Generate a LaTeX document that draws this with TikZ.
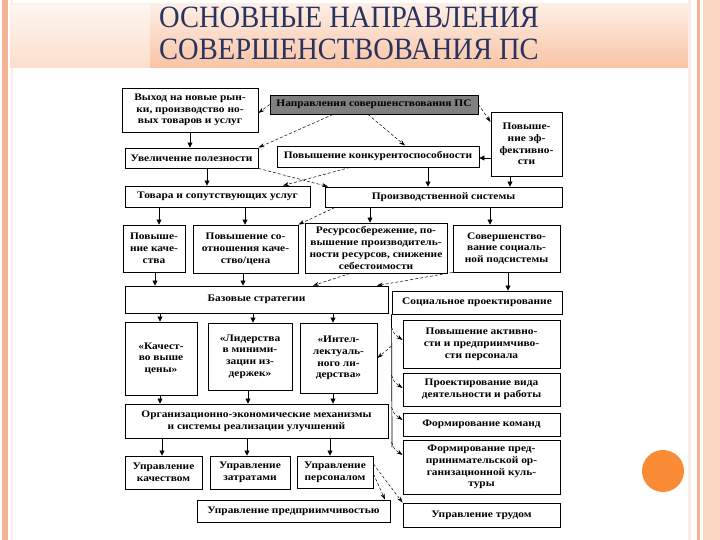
\documentclass[tikz,border=0pt]{standalone}
\usepackage{fontspec}
\setmainfont{Liberation Serif}
\newfontfamily\boxfont{Liberation Serif}[FakeStretch=1.14]
\newfontfamily\titlefont{Liberation Serif}[FakeStretch=0.92]
\usetikzlibrary{arrows.meta}
\definecolor{slidepeach}{HTML}{F9C4A5}
\definecolor{slidelight}{HTML}{FDEEE5}
\definecolor{slidestripe}{HTML}{F5B396}
\definecolor{titleblue}{HTML}{28345F}
\definecolor{sunorange}{HTML}{F98B35}
\tikzset{
  blk/.style={draw=black,line width=0.9pt,fill=white,align=center,inner sep=1pt,
              font=\boxfont\bfseries\fontsize{10}{11.8}\selectfont},
  dn/.style={-{Triangle[length=5pt,width=5pt]},line width=0.7pt},
  dsh/.style={-{Stealth[length=6pt,width=4pt]},densely dashed,line width=0.5pt}}
\newcommand\blok[7][]{%
  \node[blk,minimum width={(#5-#3)*1pt},minimum height={(#6-#4)*1pt},#1]
       (#2) at ({(#3+#5)/2},{(#4+#6)/2}) {#7};}

\begin{document}
\begin{tikzpicture}[x=1pt,y=-1pt]
  \useasboundingbox (0,0) rectangle (720,540);
  \fill[white] (0,0) rectangle (720,540);
  % slide frame
  \fill[slidestripe] (2,0) rectangle (8,540);
  \fill[slidelight] (11,0) rectangle (13,540);
  \shade[top color=slidelight,bottom color=slidepeach] (10,4) rectangle (688,68);
  \fill[white,opacity=.45] (10,4) rectangle (150,68);
  \fill[slidelight] (688,0) rectangle (691,540);
  \fill[slidestripe] (697,0) rectangle (700,540);
  \fill[slidepeach!70] (703,0) rectangle (720,540);
  \fill[sunorange] (663,471) circle (21);
  \node[anchor=west,text=titleblue,font=\titlefont\fontsize{31}{32}\selectfont,inner sep=0pt]
       (ttl1) at (159,17) {ОСНОВНЫЕ НАПРАВЛЕНИЯ};
  \node[anchor=west,text=titleblue,font=\titlefont\fontsize{31}{32}\selectfont,inner sep=0pt]
       (ttl2) at (159,49) {СОВЕРШЕНСТВОВАНИЯ ПС};

  \blok[fill=black!50]{hdr}{270}{95}{478}{114}{Направления совершенствования ПС}
  \blok{vyh}{122}{88}{258}{132}{Выход на новые рын-\\ки, производство но-\\вых товаров и услуг}
  \blok{pef}{491}{112}{562}{176}{Повыше-\\ние эф-\\фективно-\\сти}
  \blok{uvp}{125}{148}{258}{168}{Увеличение полезности}
  \blok{pks}{277}{146}{479}{167}{Повышение конкурентоспособности}
  \blok{tov}{125}{186}{310}{207}{Товара и сопутствующих услуг}
  \blok{pss}{325}{187}{562}{207}{Производственной системы}
  \blok{pkc}{123}{225}{185}{272}{Повыше-\\ние каче-\\ства}
  \blok{psk}{193}{225}{298}{273}{Повышение со-\\отношения каче-\\ство/цена}
  \blok{res}{305}{223}{447}{273}{Ресурсосбережение, по-\\вышение производитель-\\ности ресурсов, снижение\\себестоимости}
  \blok{sov}{453}{225}{560}{272}{Совершенство-\\вание социаль-\\ной подсистемы}
  \blok{bas}{125}{286}{388}{313}{Базовые стратегии}
  \blok{soc}{392}{291}{562}{314}{Социальное проектирование}
  \blok{kac}{125}{322}{197}{395}{«Качест-\\во выше\\цены»}
  \blok{lid}{208}{323}{292}{390}{«Лидерства\\в миними-\\зации из-\\держек»}
  \blok{int}{300}{323}{377}{393}{«Интел-\\лектуаль-\\ного ли-\\дерства»}
  \blok{pak}{403}{320}{560}{368}{Повышение активно-\\сти и предприимчиво-\\сти персонала}
  \blok{prd}{403}{373}{560}{406}{Проектирование вида\\деятельности и работы}
  \blok{fkm}{403}{413}{560}{436}{Формирование команд}
  \blok{org}{125}{404}{388}{438}{Организационно-экономические механизмы\\и системы реализации улучшений}
  \blok{fpk}{403}{440}{560}{494}{Формирование пред-\\принимательской ор-\\ганизационной куль-\\туры}
  \blok{uk}{125}{456}{202}{489}{Управление\\качеством}
  \blok{uz}{210}{456}{290}{489}{Управление\\затратами}
  \blok{upr}{297}{456}{373}{488}{Управление\\персоналом}
  \blok{upp}{197}{500}{390}{522}{Управление предприимчивостью}
  \blok{utr}{403}{503}{560}{527}{Управление трудом}

  \foreach \a/\b/\x in {vyh/uvp/190,uvp/tov/207,pks/pss/428,pef/pss/510,tov/pkc/159,tov/psk/245,
                        pss/res/370,pss/sov/490,pkc/bas/155,psk/bas/243,sov/soc/508,
                        bas/kac/160,bas/lid/253,bas/int/333,kac/org/160,lid/org/248,int/org/333,
                        org/uk/162,org/uz/247,org/upr/330}
     \draw[dn] (\x,0 |- \a.south) -- (\x,0 |- \b.north);
  \draw[dn] (pef.west |- 0,158) -- (pks.east |- 0,158);

  \draw[dsh] (hdr.west) -- (vyh.east |- 0,113);
  \draw[dsh] (333,0 |- hdr.south) -- (uvp.north east);
  \draw[dsh] (368,0 |- hdr.south) -- (405,0 |- pks.north);
  \draw[dsh] (hdr.east) -- (pef.west |- 0,122);
  \draw[dsh] (uvp.south east) -- (328,0 |- pss.north);
  \draw[dsh] (350,0 |- pks.south) -- (283,0 |- tov.north);
  \draw[dsh] (335,0 |- pss.south) -- (psk.north east);
  \draw[dsh] (350,0 |- res.south) -- (313,0 |- bas.north);
  \draw[dsh] (sov.south west) -- (377,0 |- bas.north);

  \draw[line width=0.7pt] (soc.south west) -- (392,447) coordinate (brk);
  \foreach \n/\y in {pak/340,prd/388,fkm/420,fpk/455}
     \draw[dsh] (soc.south west |- 0,\y-13) .. controls (394,\y-6) .. (\n.west |- 0,\y);
  \draw[dsh] (soc.south west |- 0,346) -- (int.east |- 0,358);
  \draw[dsh] (upr.east |- 0,474) -- (385,0 |- upp.north);
  \draw[dsh] (upr.east |- 0,464) -- (utr.north west);
\end{tikzpicture}
\end{document}
